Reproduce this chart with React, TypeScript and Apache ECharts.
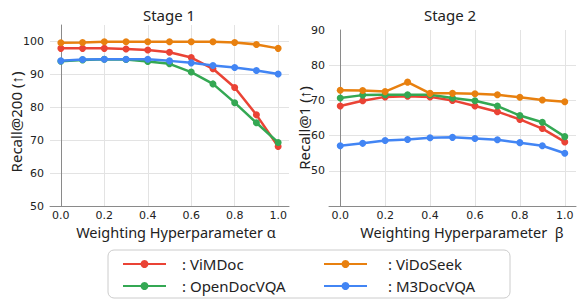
import React, { useEffect, useRef } from "react";
import * as echarts from "echarts";

const xs = [0.0, 0.1, 0.2, 0.3, 0.4, 0.5, 0.6, 0.7, 0.8, 0.9, 1.0];
const seriesNames = ["ViMDoc", "OpenDocVQA", "M3DocVQA", "ViDoSeek"];
const colors = ["#EA4335", "#34A853", "#4285F4", "#E8800F"];

// Stage 1: Recall@200
const stage1ViMDoc = [97.9, 97.9, 97.9, 97.7, 97.4, 96.7, 95.1, 91.7, 86.0, 77.7, 68.1];
const stage1OpenDocVQA = [94.0, 94.4, 94.6, 94.5, 93.9, 93.2, 90.7, 87.1, 81.4, 75.3, 69.3];
const stage1M3DocVQA = [94.1, 94.5, 94.6, 94.6, 94.6, 94.1, 93.5, 92.7, 92.1, 91.2, 90.1];
const stage1ViDoSeek = [99.6, 99.7, 99.9, 99.9, 99.9, 99.9, 99.9, 99.9, 99.7, 99.1, 97.9];

// Stage 2: Recall@1
const stage2ViMDoc = [68.4, 69.9, 71.0, 71.2, 71.0, 70.0, 68.4, 66.8, 64.6, 62.0, 58.2];
const stage2OpenDocVQA = [70.7, 71.5, 71.6, 71.6, 71.6, 70.7, 69.9, 68.4, 65.7, 63.8, 59.7];
const stage2M3DocVQA = [57.1, 57.8, 58.6, 58.9, 59.4, 59.5, 59.2, 58.8, 58.0, 57.1, 55.0];
const stage2ViDoSeek = [72.9, 72.8, 72.5, 75.2, 72.0, 72.0, 71.9, 71.6, 70.9, 70.1, 69.6];

const stage1Data = [stage1ViMDoc, stage1OpenDocVQA, stage1M3DocVQA, stage1ViDoSeek];
const stage2Data = [stage2ViMDoc, stage2OpenDocVQA, stage2M3DocVQA, stage2ViDoSeek];

// legend layout: [series index, column, row]
const legendItems = [
  [0, 0, 0],
  [3, 1, 0],
  [1, 0, 1],
  [2, 1, 1],
];

const LABEL_FONT = "Noto Sans";
const TICK_FONT = "DejaVu Sans";

export default function App() {
  const ref = useRef<HTMLDivElement>(null);
  useEffect(() => {
    if (!ref.current) return;
    const chart = echarts.init(ref.current, null, { renderer: "svg" });

    const L = { left: 50, top: 25, width: 239, height: 181 };
    const R = { left: 329, top: 30, width: 247, height: 176 };
    const inner = (g: any) => ({
      left: g.left + (g.width * 0.05) / 1.1,
      top: g.top,
      width: g.width / 1.1,
      height: g.height,
    });

    const axisLineStyle = { color: "#8a8a8a", width: 1 };
    const gridLineStyle = { color: "#e3e3e3", width: 1 };

    const outerX = (gi: number) => ({
      type: "value",
      gridIndex: gi,
      min: -0.05,
      max: 1.05,
      axisLine: { show: true, lineStyle: axisLineStyle },
      axisTick: { show: false },
      axisLabel: { show: false },
      splitLine: { show: false },
    });
    const innerX = (gi: number) => ({
      type: "value",
      gridIndex: gi,
      min: 0,
      max: 1,
      interval: 0.2,
      axisLine: { show: false },
      axisTick: { show: false },
      axisLabel: {
        show: true,
        margin: 3,
        color: "#222",
        fontFamily: TICK_FONT,
        fontSize: 11,
        lineHeight: 12,
        formatter: (v: number) => v.toFixed(1),
      },
      splitLine: { show: true, lineStyle: gridLineStyle },
    });
    const hiddenY = (gi: number) => ({
      type: "value",
      gridIndex: gi,
      min: 0,
      max: 1,
      show: false,
      splitLine: { show: false },
    });

    const mkSeries = (data: number[][], xi: number, yi: number) =>
      data.map((vals, i) => ({
        name: seriesNames[i],
        type: "line",
        xAxisIndex: xi,
        yAxisIndex: yi,
        data: xs.map((x, j) => [x, vals[j]]),
        symbol: "circle",
        symbolSize: 7,
        clip: false,
        lineStyle: { width: 2.5, color: colors[i] },
        itemStyle: { color: colors[i] },
        z: 3 + i,
      }));

    const legendGraphics: any[] = [];
    legendItems.forEach(([si, col, row]) => {
      const x0 = col === 0 ? 123 : 324;
      const tx = col === 0 ? 182 : 388;
      const y = row === 0 ? 264 : 286;
      legendGraphics.push(
        {
          type: "line",
          shape: { x1: x0, y1: y, x2: x0 + 43, y2: y },
          style: { stroke: colors[si], lineWidth: 2 },
        },
        {
          type: "circle",
          shape: { cx: x0 + 21.5, cy: y, r: 4 },
          style: { fill: colors[si] },
        },
        {
          type: "text",
          x: tx,
          y: y,
          style: {
            text: ": " + seriesNames[si],
            align: "left",
            verticalAlign: "middle",
            fontFamily: LABEL_FONT,
            fontSize: 15,
            fill: "#222",
          },
        }
      );
    });

    chart.setOption({
      animation: false,
      grid: [
        { ...L, containLabel: false },
        { ...inner(L), containLabel: false },
        { ...R, containLabel: false },
        { ...inner(R), containLabel: false },
      ],
      xAxis: [outerX(0), innerX(1), outerX(2), innerX(3)],
      yAxis: [
        {
          type: "value",
          gridIndex: 0,
          min: 50,
          max: 105,
          interval: 10,
          axisLine: { show: true, lineStyle: axisLineStyle },
          axisTick: { show: false },
          axisLabel: {
            margin: 6,
            color: "#222",
            fontFamily: TICK_FONT,
            fontSize: 11,
            formatter: (v: number) => (v > 100 ? "" : String(v)),
          },
          splitLine: { show: true, showMinLine: false, showMaxLine: false, lineStyle: gridLineStyle },
        },
        hiddenY(1),
        {
          type: "value",
          gridIndex: 2,
          min: 40,
          max: 90,
          interval: 10,
          axisLine: { show: true, lineStyle: axisLineStyle },
          axisTick: { show: false },
          axisLabel: {
            margin: 4,
            color: "#222",
            fontFamily: TICK_FONT,
            fontSize: 11,
            formatter: (v: number) => (v < 50 ? "" : String(v)),
          },
          splitLine: { show: true, showMinLine: false, showMaxLine: false, lineStyle: gridLineStyle },
        },
        hiddenY(3),
      ],
      graphic: [
        {
          type: "rect",
          shape: { x: 108, y: 250, width: 402, height: 48, r: 6 },
          style: { fill: "#fff", stroke: "#cccccc", lineWidth: 1 },
          z: -1,
        },
        ...legendGraphics,
        {
          type: "text",
          x: 169,
          y: 15,
          style: { text: "Stage 1", align: "center", verticalAlign: "middle", fontFamily: LABEL_FONT, fontSize: 15, fill: "#222" },
        },
        {
          type: "text",
          x: 450,
          y: 15,
          style: { text: "Stage 2", align: "center", verticalAlign: "middle", fontFamily: LABEL_FONT, fontSize: 15, fill: "#222" },
        },
        {
          type: "text",
          x: 176,
          y: 232,
          style: { text: "Weighting Hyperparameter \u03b1", align: "center", verticalAlign: "middle", fontFamily: LABEL_FONT, fontSize: 14.5, lineHeight: 16, fill: "#222" },
        },
        {
          type: "text",
          x: 462,
          y: 232,
          style: { text: "Weighting Hyperparameter  \u03b2", align: "center", verticalAlign: "middle", fontFamily: LABEL_FONT, fontSize: 14.5, lineHeight: 16, fill: "#222" },
        },
        {
          type: "text",
          x: 16,
          y: 122,
          rotation: Math.PI / 2,
          style: { text: "Recall@200 (\u2191)", align: "center", verticalAlign: "middle", fontFamily: LABEL_FONT, fontSize: 15, fill: "#222" },
        },
        {
          type: "text",
          x: 304,
          y: 128,
          rotation: Math.PI / 2,
          style: { text: "Recall@1 (\u2191)", align: "center", verticalAlign: "middle", fontFamily: LABEL_FONT, fontSize: 15, fill: "#222" },
        },
      ],
      series: [...mkSeries(stage1Data, 0, 0), ...mkSeries(stage2Data, 2, 2)],
    });

    return () => chart.dispose();
  }, []);

  return <div ref={ref} style={{ position: "absolute", left: 0, top: 0, width: 577, height: 300 }} />;
}
